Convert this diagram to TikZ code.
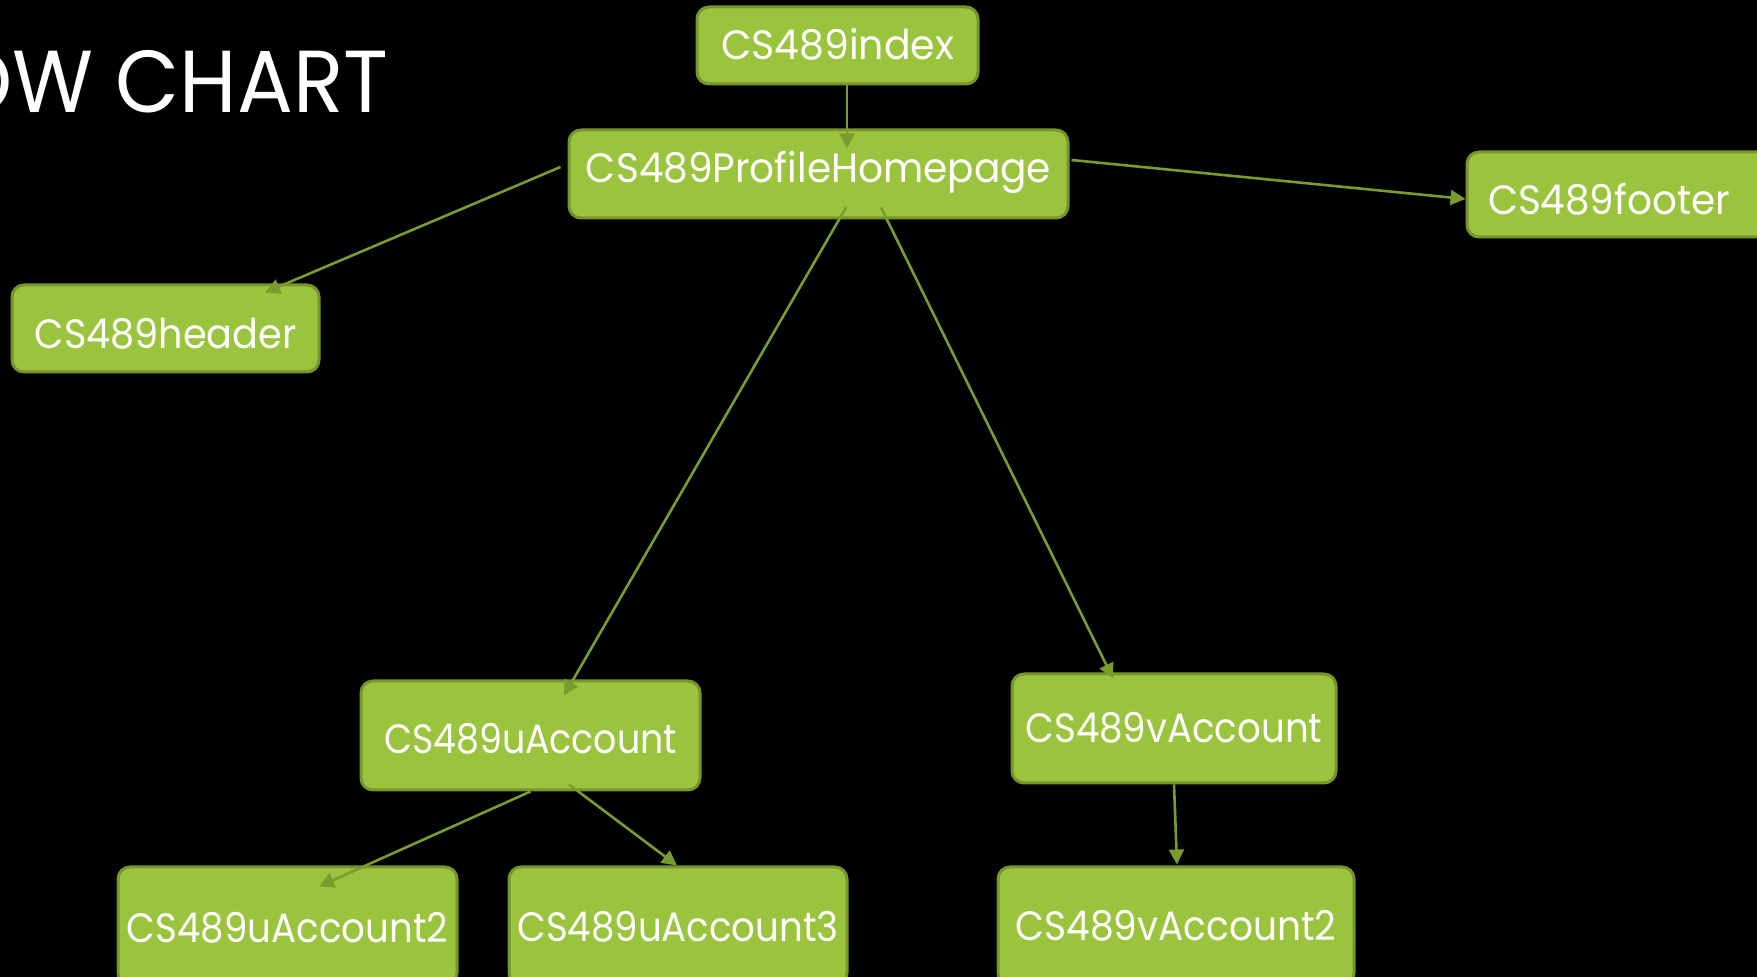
\documentclass[tikz,border=0pt]{standalone}
\usepackage{fontspec}
\setmainfont{Poppins}
\usetikzlibrary{arrows.meta,calc}
\definecolor{boxfill}{RGB}{155,196,62}
\definecolor{boxedge}{RGB}{118,150,44}
\definecolor{arrowcol}{RGB}{122,156,46}
\newcommand{\boxtext}[3]{\raisebox{#3}{\resizebox{#2}{\height}{#1}}}
\begin{document}
\begin{tikzpicture}[x=0.5pt,y=-0.5pt,
  card/.style={rounded corners=6pt, fill=boxfill, draw=boxedge, line width=1.5pt,
    text=white, inner sep=0pt, font=\fontsize{20.5pt}{24pt}\selectfont,
    text height=14.4pt, text depth=0pt},
  titletext/.style={text=white, inner sep=0pt, font=\fontsize{44pt}{50pt}\selectfont},
  arr/.style={draw=arrowcol, line width=1.3pt, -{Triangle[length=7.5pt,width=7.5pt]}}]
\path[fill=black] (0,0) rectangle (1757,977);
\useasboundingbox (0,0) rectangle (1757,977);
\clip (0,0) rectangle (1757,977);

\node[titletext, anchor=base east] (ttl) at (389,113) {\resizebox{220.5pt}{\height}{OW CHART}};

\node[card, minimum width=140.5pt, minimum height=38.5pt] (idx) at (837.5,45.5) {\boxtext{CS489index}{116.5pt}{0pt}};
\node[card, minimum width=249.5pt, minimum height=44pt] (prof) at (818.5,174) {\boxtext{CS489ProfileHomepage}{232.5pt}{2.9pt}};
\node[card, minimum width=154pt, minimum height=42.5pt] (foot) at (1621,194.5) {\makebox[133pt][l]{\boxtext{CS489footer}{121pt}{-3pt}}};
\node[card, minimum width=153.5pt, minimum height=43.5pt] (head) at (165.5,328.5) {\boxtext{CS489header}{131pt}{-3pt}};
\node[card, minimum width=169.5pt, minimum height=54.5pt] (uacc) at (530.5,735.5) {\boxtext{CS489uAccount}{146.5pt}{-1.75pt}};
\node[card, minimum width=162pt, minimum height=54.5pt] (vacc) at (1174,728.5) {\boxtext{CS489vAccount}{148.5pt}{0pt}};
\node[card, minimum width=169.5pt, minimum height=59pt] (uacctwo) at (287.5,926) {\boxtext{CS489uAccount2}{160.5pt}{-1pt}};
\node[card, minimum width=169pt, minimum height=59pt] (uaccthree) at (678,926) {\boxtext{CS489uAccount3}{160.5pt}{-0.5pt}};
\node[card, minimum width=178pt, minimum height=59pt] (vacctwo) at (1176,926) {\boxtext{CS489vAccount2}{160.5pt}{0pt}};

\draw[arr] ($(idx.south)+(9.5,0)$) -- ($(prof.north)+(28.5,20)$);
\draw[arr] ($(prof.west)+(-7,-7)$) -- ($(head.north)+(99.5,9)$);
\draw[arr] ($(prof.east)+(2,-14)$) -- ($(foot.west)+(0,4.5)$);
\draw[arr] ($(prof.south)+(27.5,-12)$) -- ($(uacc.north)+(33.5,16)$);
\draw[arr] ($(prof.south)+(62.5,-12)$) -- ($(vacc.north)+(-61,6)$);
\draw[arr] ($(uacc.south)+(0,0)$) -- ($(uacctwo.north)+(31.5,21)$);
\draw[arr] ($(uacc.south)+(38.5,-7)$) -- ($(uaccthree.north)+(-1,0)$);
\draw[arr] ($(vacc.south)+(0,0)$) -- ($(vacctwo.north)+(1,-1)$);
\end{tikzpicture}
\end{document}
